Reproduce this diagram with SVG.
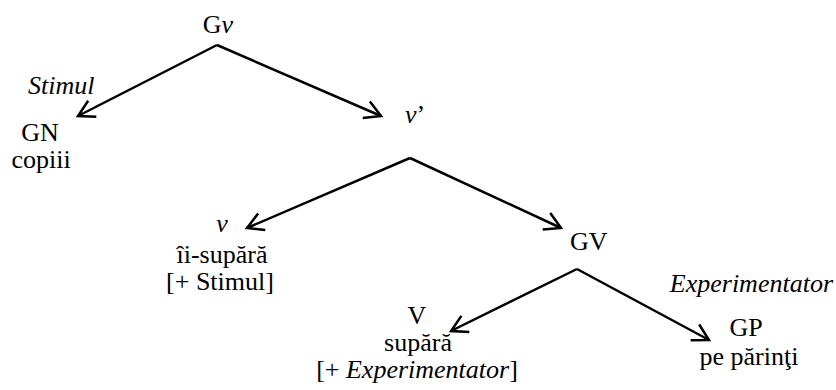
<svg xmlns="http://www.w3.org/2000/svg" width="836" height="390" viewBox="0 0 836 390">
<style>
text{font-family:"Liberation Serif","Times New Roman","DejaVu Serif",serif;font-size:26px;fill:#000}
.i{font-style:italic}
.c{text-anchor:middle}
.e{stroke:#000;stroke-width:2.5;fill:none}
</style>
<defs>
<marker id="ah" markerUnits="userSpaceOnUse" markerWidth="24" markerHeight="24" refX="18" refY="10" orient="auto" viewBox="0 0 24 20">
<path d="M2,1 L18,10 L2,19" fill="none" stroke="#000" stroke-width="2.5"/>
</marker>
</defs>
<g id="connectors">
<path class="e" d="M217,45 L78,116" marker-end="url(#ah)"/>
<path class="e" d="M217,45 L381,116" marker-end="url(#ah)"/>
<path class="e" d="M410,158 L247,228" marker-end="url(#ah)"/>
<path class="e" d="M410,158 L561,228" marker-end="url(#ah)"/>
<path class="e" d="M577,269 L451,331" marker-end="url(#ah)"/>
<path class="e" d="M577,269 L709,340" marker-end="url(#ah)"/>
</g>
<g id="Gv"><text x="218" y="33" class="c">G<tspan class="i">v</tspan></text></g>
<g id="GN"><text x="28" y="94" class="i">Stimul</text><text x="40" y="141" class="c">GN</text><text x="41" y="168" class="c">copiii</text></g>
<g id="vbar"><text x="405" y="123"><tspan class="i">v</tspan>’</text></g>
<g id="v"><text x="222" y="232" class="c i">v</text><text x="222" y="263" class="c">îi-supără</text><text x="220" y="290" class="c">[+ Stimul]</text></g>
<g id="GV"><text x="570" y="250">GV</text></g>
<g id="V"><text x="417" y="324" class="c">V</text><text x="418" y="351" class="c">supără</text><text x="417" y="378" class="c">[+ <tspan class="i">Experimentator</tspan>]</text></g>
<g id="GP"><text x="833" y="292" class="i" text-anchor="end">Experimentator</text><text x="746" y="336" class="c">GP</text><text x="749" y="365" class="c">pe părinţi</text></g>
</svg>
